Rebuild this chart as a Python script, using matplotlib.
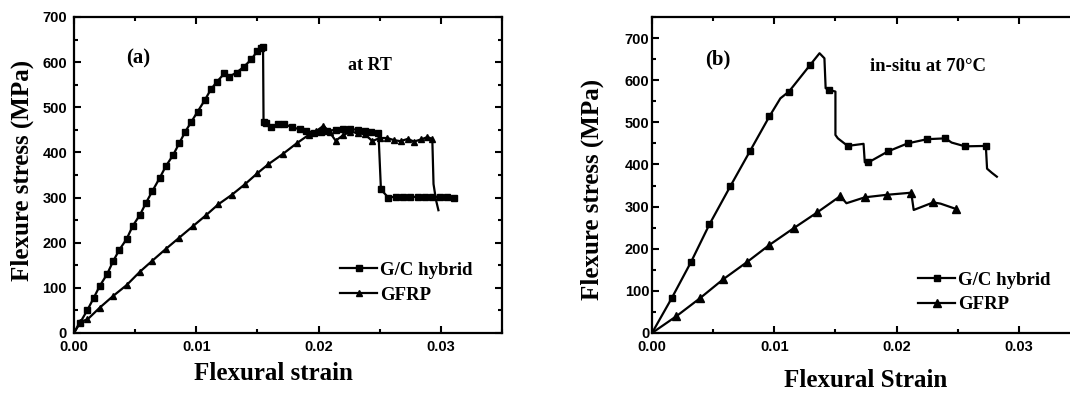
import matplotlib
matplotlib.use("Agg")
import matplotlib.pyplot as plt
from matplotlib.ticker import MultipleLocator

# ---- data ----
# (a) at room temperature
a_hyb_strain = [0, 0.0005, 0.0011, 0.0016, 0.0021, 0.0027, 0.0032, 0.0037, 0.0043, 0.0048,
                0.0054, 0.0059, 0.0064, 0.0070, 0.0075, 0.0081, 0.0086, 0.0091, 0.0096, 0.0101,
                0.0107, 0.0112, 0.0117, 0.0123, 0.0127, 0.0133, 0.0139, 0.0145, 0.0150, 0.0153,
                0.01546, 0.01550, 0.0157, 0.0161, 0.0167, 0.0172, 0.0178, 0.0185, 0.0190, 0.0196,
                0.0202, 0.0207, 0.0214, 0.0220, 0.0226, 0.0232, 0.0238, 0.0243, 0.0249, 0.0251,
                0.0257, 0.0263, 0.0269, 0.0275, 0.0281, 0.0287, 0.0293, 0.0299, 0.0305, 0.0311]
a_hyb_stress = [0, 23, 51, 77, 104, 130, 159, 184, 208, 237,
                262, 289, 314, 343, 369, 394, 420, 446, 468, 490,
                516, 540, 557, 575, 568, 577, 590, 606, 625, 631,
                634, 468, 466, 457, 463, 463, 456, 451, 448, 444,
                446, 448, 450, 452, 452, 450, 447, 445, 442, 318,
                300, 302, 301, 302, 301, 302, 301, 302, 301, 300]

a_gfrp_strain = [0, 0.0005, 0.0011, 0.0021, 0.0032, 0.0043, 0.0054, 0.0064, 0.0075, 0.0086,
                 0.0097, 0.0108, 0.0118, 0.0129, 0.0140, 0.0150, 0.0159, 0.0171, 0.0182, 0.0192,
                 0.0198, 0.0204, 0.0209, 0.0214, 0.0220, 0.0226, 0.0232, 0.0238, 0.0244, 0.0250,
                 0.0256, 0.0262, 0.0267, 0.0273, 0.0278, 0.0284, 0.0289, 0.0293, 0.0294, 0.0296,
                 0.0298]
a_gfrp_stress = [0, 25, 30, 56, 82, 106, 136, 160, 186, 211,
                 236, 261, 285, 306, 330, 354, 374, 397, 420, 439,
                 447, 459, 445, 426, 438, 446, 443, 440, 425, 432,
                 432, 427, 425, 430, 424, 429, 434, 430, 330, 295,
                 272]

# (b) in-situ at 70 C
b_hyb_strain = [0, 0.0016, 0.0032, 0.0047, 0.0064, 0.0080, 0.0096, 0.0105, 0.0112, 0.0129,
                0.0137, 0.0141, 0.0142, 0.0145, 0.0150, 0.0150, 0.0152, 0.0160, 0.0173, 0.0174,
                0.0177, 0.0193, 0.0209, 0.0225, 0.0240, 0.0245, 0.0256, 0.0273, 0.0274, 0.0278,
                0.0282]
b_hyb_stress = [0, 82, 169, 258, 348, 431, 514, 557, 573, 635,
                664, 652, 581, 577, 573, 470, 462, 444, 449, 405,
                405, 431, 450, 460, 462, 452, 443, 444, 390, 380,
                371]
b_hyb_marks = [1, 2, 3, 4, 5, 6, 8, 9, 13, 17, 20, 21, 22, 23, 24, 26, 27]

b_gfrp_strain = [0, 0.0020, 0.0039, 0.0058, 0.0078, 0.0096, 0.0116, 0.0135, 0.0154, 0.0159,
                 0.0174, 0.0192, 0.0212, 0.0214, 0.0230, 0.0236, 0.0249]
b_gfrp_stress = [0, 40, 82, 127, 169, 209, 249, 286, 325, 308,
                 322, 328, 333, 292, 310, 307, 294]
b_gfrp_marks = [1, 2, 3, 4, 5, 6, 7, 8, 10, 11, 12, 14, 16]

series_labels = ["G/C hybrid", "GFRP"]

serif = "Liberation Serif"
sans = "Liberation Sans"

fig = plt.figure(figsize=(10.7, 3.96), dpi=100)
ax_a = fig.add_axes([74 / 1070, 1 - 333 / 396, 428 / 1070, 316 / 396])
ax_b = fig.add_axes([652 / 1070, 1 - 333 / 396, 428 / 1070, 316 / 396])


def style_axes(ax, ymax, ypad):
    ax.set_xlim(0, 0.035)
    ax.set_ylim(0, ymax)
    ax.xaxis.set_major_locator(MultipleLocator(0.01))
    ax.xaxis.set_minor_locator(MultipleLocator(0.005))
    ax.yaxis.set_major_locator(MultipleLocator(100))
    ax.yaxis.set_minor_locator(MultipleLocator(50))
    ax.set_yticks(range(0, 701, 100))
    ax.xaxis.set_major_formatter(plt.FuncFormatter(lambda v, p: f"{v:.2f}"))
    ax.tick_params(which="both", direction="in", top=True, right=True, width=1.5)
    ax.tick_params(which="major", length=5)
    ax.tick_params(which="minor", length=3)
    ax.tick_params(axis="x", pad=5)
    ax.tick_params(axis="y", pad=ypad)
    for lab in ax.get_xticklabels() + ax.get_yticklabels():
        lab.set_fontfamily(sans)
        lab.set_fontweight("bold")
        lab.set_fontsize(10.5)
    for sp in ax.spines.values():
        sp.set_linewidth(1.6)


legend_font = {"family": serif, "weight": "bold", "size": 13.5}

# panel (a)
ax_a.plot(a_hyb_strain, a_hyb_stress, color="black", lw=1.6, marker="s", ms=4.5,
          markevery=(1, 1), label=series_labels[0])
ax_a.plot(a_gfrp_strain, a_gfrp_stress, color="black", lw=1.6, marker="^", ms=5,
          markevery=list(range(1, 38)), label=series_labels[1])
style_axes(ax_a, 700, 5)
ax_a.set_xlabel("Flexural strain", fontfamily=serif, fontweight="bold", fontsize=18)
ax_a.set_ylabel("Flexure stress (MPa)", fontfamily=serif, fontweight="bold", fontsize=18)
ax_a.xaxis.label.set_verticalalignment("center")
ax_a.yaxis.label.set_verticalalignment("center")
ax_a.xaxis.set_label_coords(0.467, -0.127)
ax_a.yaxis.set_label_coords(-0.121, 0.513)
ax_a.text(0.150, 0.870, "(a)", transform=ax_a.transAxes, ha="center", va="center",
          fontfamily=serif, fontweight="bold", fontsize=15)
ax_a.text(0.692, 0.848, "at RT", transform=ax_a.transAxes, ha="center", va="center",
          fontfamily=serif, fontweight="bold", fontsize=13)
ax_a.legend(loc="upper left", bbox_to_anchor=(0.621, 0.225), frameon=False,
            borderpad=0, borderaxespad=0, handlelength=2.0, handletextpad=0.15,
            labelspacing=0.4, prop=legend_font)

# panel (b)
ax_b.plot(b_hyb_strain, b_hyb_stress, color="black", lw=1.6, marker="s", ms=5,
          markevery=b_hyb_marks, label=series_labels[0])
ax_b.plot(b_gfrp_strain, b_gfrp_stress, color="black", lw=1.6, marker="^", ms=5.5,
          markevery=b_gfrp_marks, label=series_labels[1])
style_axes(ax_b, 750, 2)
ax_b.set_xlabel("Flexural Strain", fontfamily=serif, fontweight="bold", fontsize=18)
ax_b.set_ylabel("Flexure stress (MPa)", fontfamily=serif, fontweight="bold", fontsize=18)
ax_b.xaxis.label.set_verticalalignment("center")
ax_b.yaxis.label.set_verticalalignment("center")
ax_b.xaxis.set_label_coords(0.498, -0.149)
ax_b.yaxis.set_label_coords(-0.140, 0.453)
ax_b.text(0.154, 0.864, "(b)", transform=ax_b.transAxes, ha="center", va="center",
          fontfamily=serif, fontweight="bold", fontsize=15)
ax_b.text(0.645, 0.842, "in-situ at 70°C", transform=ax_b.transAxes,
          ha="center", va="center", fontfamily=serif, fontweight="bold", fontsize=13.5)
ax_b.legend(loc="upper left", bbox_to_anchor=(0.621, 0.195), frameon=False,
            borderpad=0, borderaxespad=0, handlelength=2.0, handletextpad=0.15,
            labelspacing=0.4, prop=legend_font)

fig.savefig("out.png", dpi=100)
